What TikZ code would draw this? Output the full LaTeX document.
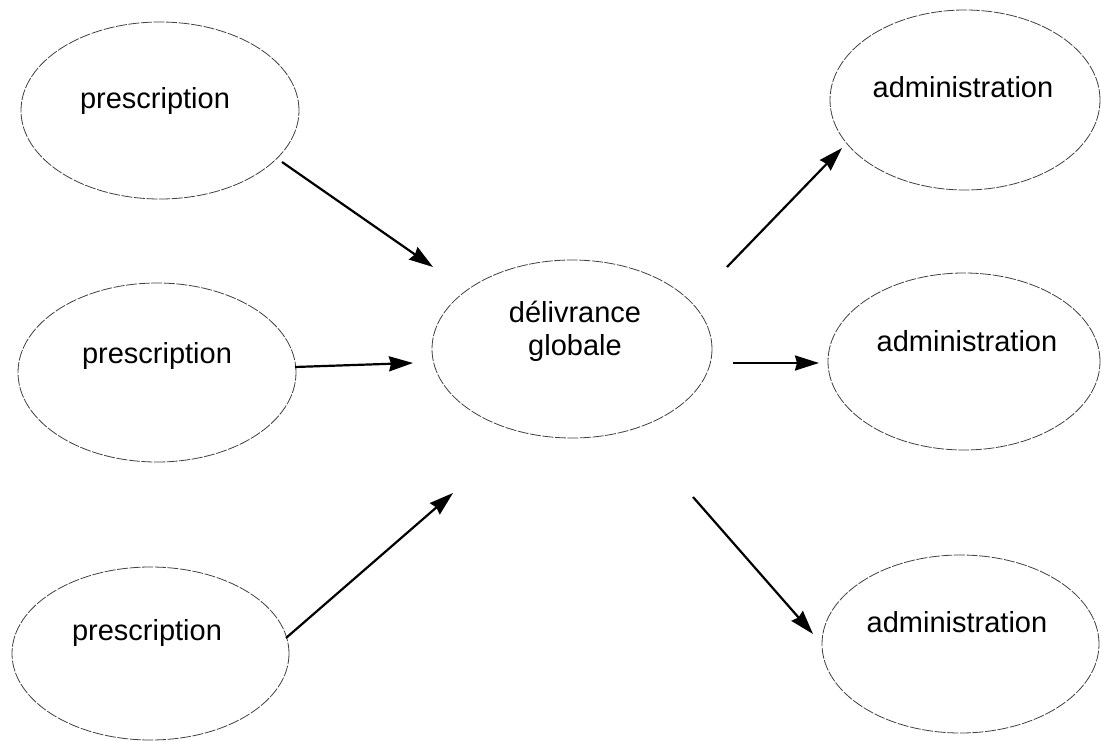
\documentclass[tikz,border=0pt]{standalone}
\usepackage{fontspec}
\setmainfont{Liberation Sans}
\usetikzlibrary{shapes.geometric,arrows.meta}

\tikzset{
  bubble/.style={ellipse, draw=black!75, line width=0.8pt,
    dash pattern=on 11pt off 1.6pt, inner sep=0pt},
  lbl/.style={inner sep=0pt, anchor=base, font=\fontsize{29}{33}\selectfont},
  flow/.style={line width=2.2pt, -{Stealth[length=24pt,width=15pt,inset=2pt]}}
}

\begin{document}
\begin{tikzpicture}[x=1pt, y=-1pt]
  \useasboundingbox (0,0) rectangle (1101,741);

  % prescriptions (left column)
  \node[bubble, minimum width=278pt, minimum height=177pt] (p1) at (160,110.5) {};
  \node[bubble, minimum width=278pt, minimum height=179pt] (p2) at (157,372.5) {};
  \node[bubble, minimum width=277pt, minimum height=173pt] (p3) at (150.5,653.5) {};
  \node[lbl] (p1t) at (155,109) {prescription};
  \node[lbl] (p2t) at (157,363) {prescription};
  \node[lbl] (p3t) at (147,640) {prescription};

  % central dispensing
  \node[bubble, minimum width=280pt, minimum height=178pt] (c) at (572,349) {};
  \node[lbl, anchor=center, align=center] (ct) at (575,331) {délivrance\\globale};

  % administrations (right column)
  \node[bubble, minimum width=270pt, minimum height=180pt] (a1) at (965,100) {};
  \node[bubble, minimum width=272pt, minimum height=177pt] (a2) at (964,361.5) {};
  \node[bubble, minimum width=277pt, minimum height=178pt] (a3) at (960.5,644) {};
  \node[lbl] (a1t) at (963,98) {administration};
  \node[lbl] (a2t) at (967,351) {administration};
  \node[lbl] (a3t) at (957,632) {administration};

  % arrow end points
  \coordinate (i1s) at (282,162);  \coordinate (i1e) at (433,267);
  \coordinate (i2s) at (295,367);  \coordinate (i2e) at (413,363);
  \coordinate (i3s) at (286,638);  \coordinate (i3e) at (453,493);
  \coordinate (o1s) at (727,267);  \coordinate (o1e) at (842,148);
  \coordinate (o2s) at (733,363);  \coordinate (o2e) at (819,363);
  \coordinate (o3s) at (693,497);  \coordinate (o3e) at (813,634);

  \draw[flow] (i1s) -- (i1e);
  \draw[flow] (i2s) -- (i2e);
  \draw[flow] (i3s) -- (i3e);
  \draw[flow] (o1s) -- (o1e);
  \draw[flow] (o2s) -- (o2e);
  \draw[flow] (o3s) -- (o3e);
\end{tikzpicture}
\end{document}
